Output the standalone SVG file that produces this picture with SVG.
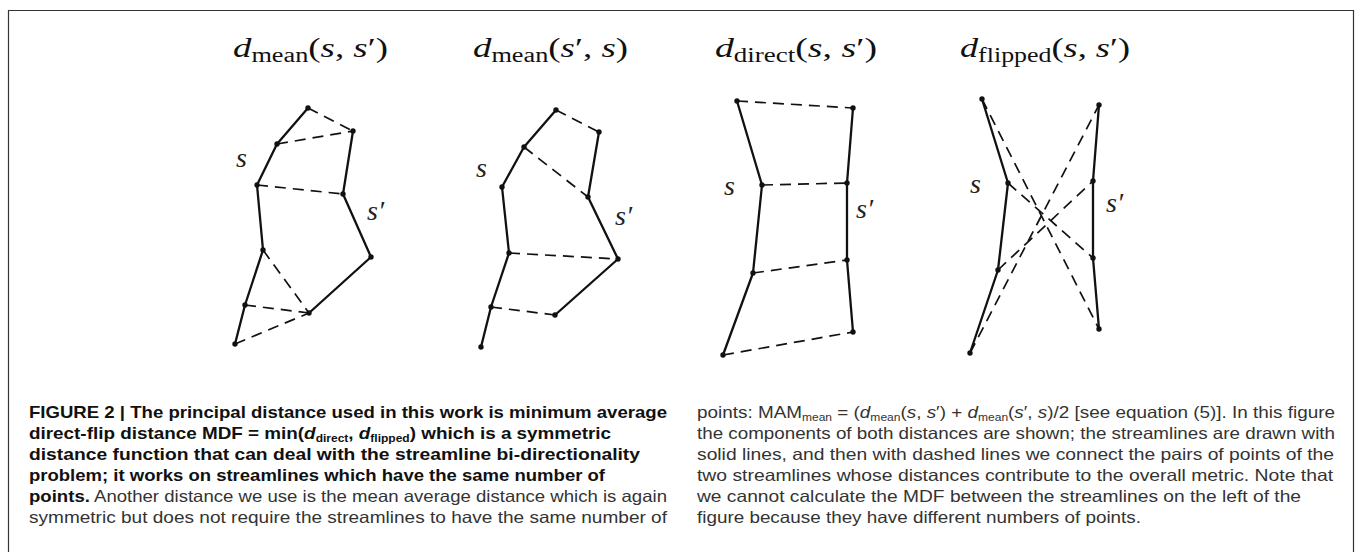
<svg xmlns="http://www.w3.org/2000/svg" width="1356" height="552" viewBox="0 0 1356 552">
<style>
.solid{fill:none;stroke:#111;stroke-width:2.3;stroke-linejoin:round;stroke-linecap:round}
.dash{fill:none;stroke:#111;stroke-width:1.7;stroke-dasharray:11 7}
.pt{fill:#111}
.title{font-family:"Liberation Serif","DejaVu Serif",serif;font-size:28px;fill:#111}
.it{font-style:italic}
.sub{font-size:20px}
.lab{font-family:"Liberation Serif","DejaVu Serif",serif;font-size:28px;font-style:italic;fill:#222}
.cap{font-family:"Liberation Sans",Arial,sans-serif;font-size:16.5px;fill:#333}
.b{font-weight:bold;fill:#111}
.cs{font-size:10.5px}
</style>
<rect width="1356" height="552" fill="#fff"/>
<path d="M8.5 552 V10.5 H1353.5 V552" fill="none" stroke="#333" stroke-width="1.2"/>

<g id="panel1">
<text class="title" x="233" y="57" textLength="155" lengthAdjust="spacingAndGlyphs"><tspan class="it">d</tspan><tspan class="sub" dy="5">mean</tspan><tspan dy="-5">(</tspan><tspan class="it">s</tspan>, <tspan class="it">s</tspan>′)</text>
<polyline class="solid" points="308,108 277,144 257,185 263,250 245,305 235,344"/>
<polyline class="solid" points="353,131 343,194 371,257 309,313"/>
<line class="dash" x1="308" y1="108" x2="353" y2="131"/>
<line class="dash" x1="277" y1="144" x2="353" y2="131"/>
<line class="dash" x1="257" y1="185" x2="343" y2="194"/>
<line class="dash" x1="263" y1="250" x2="309" y2="313"/>
<line class="dash" x1="245" y1="305" x2="309" y2="313"/>
<line class="dash" x1="235" y1="344" x2="309" y2="313"/>
<g class="pt">
<circle cx="308" cy="108" r="2.7"/><circle cx="277" cy="144" r="2.7"/><circle cx="257" cy="185" r="2.7"/><circle cx="263" cy="250" r="2.7"/><circle cx="245" cy="305" r="2.7"/><circle cx="235" cy="344" r="2.7"/>
<circle cx="353" cy="131" r="2.7"/><circle cx="343" cy="194" r="2.7"/><circle cx="371" cy="257" r="2.7"/><circle cx="309" cy="313" r="2.7"/>
</g>
<text class="lab" x="236" y="167">s</text>
<text class="lab" x="367" y="220">s′</text>
</g>

<g id="panel2">
<text class="title" x="473" y="57" textLength="155" lengthAdjust="spacingAndGlyphs"><tspan class="it">d</tspan><tspan class="sub" dy="5">mean</tspan><tspan dy="-5">(</tspan><tspan class="it">s</tspan>′, <tspan class="it">s</tspan>)</text>
<polyline class="solid" points="556,110 524,147 502,187 509,253 491,307 481,347"/>
<polyline class="solid" points="599,132 588,197 618,259 555,315"/>
<line class="dash" x1="556" y1="110" x2="599" y2="132"/>
<line class="dash" x1="524" y1="147" x2="588" y2="197"/>
<line class="dash" x1="509" y1="253" x2="618" y2="259"/>
<line class="dash" x1="491" y1="307" x2="555" y2="315"/>
<g class="pt">
<circle cx="556" cy="110" r="2.7"/><circle cx="524" cy="147" r="2.7"/><circle cx="502" cy="187" r="2.7"/><circle cx="509" cy="253" r="2.7"/><circle cx="491" cy="307" r="2.7"/><circle cx="481" cy="347" r="2.7"/>
<circle cx="599" cy="132" r="2.7"/><circle cx="588" cy="197" r="2.7"/><circle cx="618" cy="259" r="2.7"/><circle cx="555" cy="315" r="2.7"/>
</g>
<text class="lab" x="476" y="177">s</text>
<text class="lab" x="615" y="225">s′</text>
</g>

<g id="panel3">
<text class="title" x="715" y="57" textLength="162" lengthAdjust="spacingAndGlyphs"><tspan class="it">d</tspan><tspan class="sub" dy="5">direct</tspan><tspan dy="-5">(</tspan><tspan class="it">s</tspan>, <tspan class="it">s</tspan>′)</text>
<polyline class="solid" points="737,101 762,185 753,273 723,355"/>
<polyline class="solid" points="853,108 847,183 847,260 853,332"/>
<line class="dash" x1="737" y1="101" x2="853" y2="108"/>
<line class="dash" x1="762" y1="185" x2="847" y2="183"/>
<line class="dash" x1="753" y1="273" x2="847" y2="260"/>
<line class="dash" x1="723" y1="355" x2="853" y2="332"/>
<g class="pt">
<circle cx="737" cy="101" r="2.7"/><circle cx="762" cy="185" r="2.7"/><circle cx="753" cy="273" r="2.7"/><circle cx="723" cy="355" r="2.7"/>
<circle cx="853" cy="108" r="2.7"/><circle cx="847" cy="183" r="2.7"/><circle cx="847" cy="260" r="2.7"/><circle cx="853" cy="332" r="2.7"/>
</g>
<text class="lab" x="724" y="195">s</text>
<text class="lab" x="856" y="218">s′</text>
</g>

<g id="panel4">
<text class="title" x="960" y="57" textLength="170" lengthAdjust="spacingAndGlyphs"><tspan class="it">d</tspan><tspan class="sub" dy="5">flipped</tspan><tspan dy="-5">(</tspan><tspan class="it">s</tspan>, <tspan class="it">s</tspan>′)</text>
<polyline class="solid" points="982,99 1008,183 998,270 970,353"/>
<polyline class="solid" points="1099,105 1093,181 1093,258 1099,329"/>
<line class="dash" x1="982" y1="99" x2="1099" y2="329"/>
<line class="dash" x1="1008" y1="183" x2="1093" y2="258"/>
<line class="dash" x1="998" y1="270" x2="1093" y2="181"/>
<line class="dash" x1="970" y1="353" x2="1099" y2="105"/>
<g class="pt">
<circle cx="982" cy="99" r="2.7"/><circle cx="1008" cy="183" r="2.7"/><circle cx="998" cy="270" r="2.7"/><circle cx="970" cy="353" r="2.7"/>
<circle cx="1099" cy="105" r="2.7"/><circle cx="1093" cy="181" r="2.7"/><circle cx="1093" cy="258" r="2.7"/><circle cx="1099" cy="329" r="2.7"/>
</g>
<text class="lab" x="970" y="193">s</text>
<text class="lab" x="1106" y="212">s′</text>
</g>

<g id="caption">
<text class="cap b" x="29" y="418" textLength="638" lengthAdjust="spacingAndGlyphs">FIGURE 2 | The principal distance used in this work is minimum average</text>
<text class="cap b" x="29" y="439" textLength="582" lengthAdjust="spacingAndGlyphs">direct-flip distance MDF = min(<tspan class="it">d</tspan><tspan class="cs" dy="3">direct</tspan><tspan dy="-3">, </tspan><tspan class="it">d</tspan><tspan class="cs" dy="3">flipped</tspan><tspan dy="-3">) which is a symmetric</tspan></text>
<text class="cap b" x="29" y="460" textLength="611" lengthAdjust="spacingAndGlyphs">distance function that can deal with the streamline bi-directionality</text>
<text class="cap b" x="29" y="481" textLength="576" lengthAdjust="spacingAndGlyphs">problem; it works on streamlines which have the same number of</text>
<text class="cap" x="29" y="502" textLength="638" lengthAdjust="spacingAndGlyphs"><tspan class="b">points.</tspan> Another distance we use is the mean average distance which is again</text>
<text class="cap" x="29" y="523" textLength="638" lengthAdjust="spacingAndGlyphs">symmetric but does not require the streamlines to have the same number of</text>

<text class="cap" x="697" y="418" textLength="638" lengthAdjust="spacingAndGlyphs">points: MAM<tspan class="cs" dy="3">mean</tspan><tspan dy="-3"> = (</tspan><tspan class="it">d</tspan><tspan class="cs" dy="3">mean</tspan><tspan dy="-3">(</tspan><tspan class="it">s</tspan>, <tspan class="it">s</tspan>′) + <tspan class="it">d</tspan><tspan class="cs" dy="3">mean</tspan><tspan dy="-3">(</tspan><tspan class="it">s</tspan>′, <tspan class="it">s</tspan>)/2 [see equation (5)]. In this figure</text>
<text class="cap" x="697" y="439" textLength="638" lengthAdjust="spacingAndGlyphs">the components of both distances are shown; the streamlines are drawn with</text>
<text class="cap" x="697" y="460" textLength="637" lengthAdjust="spacingAndGlyphs">solid lines, and then with dashed lines we connect the pairs of points of the</text>
<text class="cap" x="697" y="481" textLength="636" lengthAdjust="spacingAndGlyphs">two streamlines whose distances contribute to the overall metric. Note that</text>
<text class="cap" x="697" y="502" textLength="604" lengthAdjust="spacingAndGlyphs">we cannot calculate the MDF between the streamlines on the left of the</text>
<text class="cap" x="697" y="523" textLength="444" lengthAdjust="spacingAndGlyphs">figure because they have different numbers of points.</text>
</g>
</svg>
